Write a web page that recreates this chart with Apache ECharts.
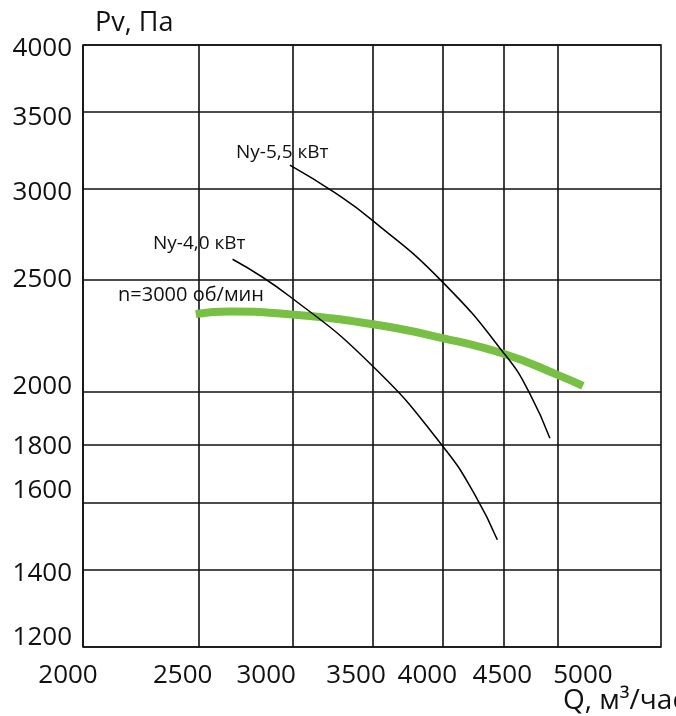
<!DOCTYPE html>
<html>
<head>
<meta charset="utf-8">
<title>Pv-Q</title>
<script src="https://cdn.jsdelivr.net/npm/echarts@6/dist/echarts.min.js"></script>
<style>
html,body{margin:0;padding:0;background:#fff;}
#main{width:676px;height:716px;}
</style>
</head>
<body>
<div id="main"></div>
<script>
// tick values
var xTicks = [2000, 2500, 3000, 3500, 4000, 4500, 5000];
var yTicks = [1200, 1400, 1600, 1800, 2000, 2500, 3000, 3500, 4000];

// n=3000 об/мин
var qFan = [2486, 2655, 2981, 3500, 4002, 4528, 4997, 5247];
var pFan = [2336, 2347, 2334, 2288, 2226, 2153, 2068, 2023];
// Ny-5,5 кВт
var q55 = [2981, 3251, 3500, 3999, 4528, 4737, 4923];
var p55 = [3146, 2977, 2814, 2492, 2145, 1991, 1822];
// Ny-4,0 кВт
var q40 = [2669, 2981, 3500, 4002, 4260, 4448];
var p40 = [2606, 2419, 2103, 1794, 1627, 1487];

// label nudges (px) so the tick texts sit like in the catalogue sheet
var xShift = {2000: -15, 2500: -16, 3000: -27, 3500: -17, 4000: -15, 4500: -1, 5000: 25};
var yShift = {1200: -9, 1400: 4, 1600: -13, 1800: 2, 2000: -5, 2500: 0, 3000: 4, 3500: 6, 4000: 4};

var FONT = 'Open Sans';

function zip(a, b) {
  var r = [];
  for (var i = 0; i < a.length; i++) r.push([a[i], b[i]]);
  return r;
}

function richFor(shifts, horizontal) {
  var rich = {};
  Object.keys(shifts).forEach(function (k) {
    var s = shifts[k];
    var pad = [0, 0, 0, 0];
    if (horizontal) {
      if (s < 0) pad[1] = -2 * s; else pad[3] = 2 * s;
    } else {
      if (s < 0) pad[2] = -2 * s; else pad[0] = 2 * s;
    }
    rich['v' + k] = {fontSize: 26, fontFamily: FONT, color: '#111', padding: pad};
  });
  return rich;
}

var myChart = echarts.init(document.getElementById('main'));

var option = {
  backgroundColor: '#fff',
  animation: false,
  grid: {
    left: 83, right: 15, top: 45, bottom: 69,
    show: true, borderColor: '#111', borderWidth: 1.6,
    outerBoundsMode: 'none'
  },
  xAxis: {
    type: 'log', logBase: 10, min: 2000, max: 6100,
    axisLine: {show: false},
    axisTick: {show: false, customValues: xTicks},
    splitLine: {show: true, lineStyle: {color: '#111', width: 1.6}},
    axisLabel: {
      customValues: xTicks, margin: 16,
      fontSize: 26, fontFamily: FONT, color: '#111',
      formatter: function (v) { var k = Math.round(v); return '{v' + k + '|' + k + '}'; },
      rich: richFor(xShift, true)
    }
  },
  yAxis: {
    type: 'log', logBase: 10, min: 1200, max: 4000,
    axisLine: {show: false},
    axisTick: {show: false, customValues: yTicks},
    splitLine: {show: true, lineStyle: {color: '#111', width: 1.6}},
    axisLabel: {
      customValues: yTicks, margin: 11,
      fontSize: 26, fontFamily: FONT, color: '#111',
      formatter: function (v) { var k = Math.round(v); return '{v' + k + '|' + k + '}'; },
      rich: richFor(yShift, false)
    }
  },
  series: [
    {
      name: 'n=3000 об/мин', type: 'line', data: zip(qFan, pFan),
      smooth: 0.5, showSymbol: false, z: 3,
      lineStyle: {color: '#78c043', width: 8}
    },
    {
      name: 'Ny-5,5 кВт', type: 'line', data: zip(q55, p55),
      smooth: 0.5, showSymbol: false, z: 4,
      lineStyle: {color: '#000', width: 1.5}
    },
    {
      name: 'Ny-4,0 кВт', type: 'line', data: zip(q40, p40),
      smooth: 0.5, showSymbol: false, z: 4,
      lineStyle: {color: '#000', width: 1.5}
    }
  ],
  graphic: [
    {type: 'text', x: 95, y: 23, style: {text: 'Pv, Па', fill: '#111', font: '27px "Open Sans"', verticalAlign: 'middle'}},
    {type: 'text', x: 236, y: 153, style: {text: 'Ny-5,5 кВт', fill: '#111', font: '19px "Open Sans"', verticalAlign: 'middle'}},
    {type: 'text', x: 153, y: 244, style: {text: 'Ny-4,0 кВт', fill: '#111', font: '19px "Open Sans"', verticalAlign: 'middle'}},
    {type: 'text', x: 118, y: 295, style: {text: 'n=3000 об/мин', fill: '#111', font: '20px "Open Sans"', verticalAlign: 'middle'}},
    {type: 'text', x: 563, y: 701, style: {text: 'Q, м³/час', fill: '#111', font: '28px "Open Sans"', verticalAlign: 'middle'}}
  ]
};

myChart.setOption(option);
</script>
</body>
</html>
